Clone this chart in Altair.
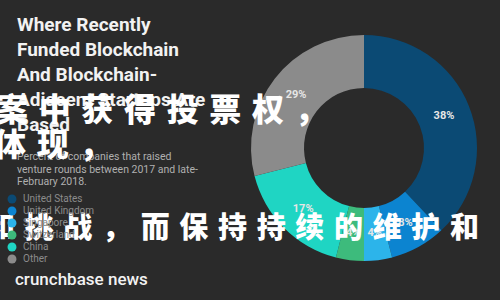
import altair as alt
import pandas as pd

# Share of recently funded blockchain startups by country
countries = ["United States", "United Kingdom", "Singapore", "Switzerland", "China", "Other"]
shares = [38, 8, 4, 4, 17, 29]
colors = ["#0b4a74", "#0c84d0", "#2cb4ea", "#3dbb7c", "#1fd5c3", "#8b8b8b"]

title_lines = ["Where Recently", "Funded Blockchain", "And Blockchain-", "Adjacent Startups Are", "Based"]
subtitle_lines = ["Percent of companies that raised", "venture rounds between 2017 and late-", "February 2018."]
brand = "crunchbase news"

# Overlay captions (characters separated by thin spaces)
sp = "\u2004"
cap1 = sp.join("案中获得投票权，")
cap2 = sp.join("体现，")
cap3 = sp.join("和挑战，而保持持续的维护和")

BG = "#2a2a2a"
CX, CY = 364, 148

df = pd.DataFrame({
    "country": countries,
    "share": shares,
    "order": list(range(len(countries))),
})
df["label"] = df["share"].astype(str) + "%"

base = alt.Chart(df)

donut = base.mark_arc(x=CX, y=CY, innerRadius=60, outerRadius=113).encode(
    theta=alt.Theta("share:Q", stack=True),
    order=alt.Order("order:Q"),
    color=alt.Color(
        "country:N",
        sort=countries,
        scale=alt.Scale(domain=countries, range=colors),
        legend=alt.Legend(
            title=None,
            orient="none",
            legendX=7,
            legendY=194,
            symbolType="circle",
            symbolSize=80,
            symbolStrokeWidth=0,
            labelFontSize=10,
            labelColor="#8c8c8c",
            labelFont="Roboto",
            rowPadding=2,
            padding=0,
            labelOffset=6,
        ),
    ),
)

pct = base.mark_text(
    x=CX, y=CY, radius=86, font="Roboto", fontSize=11, fontWeight="bold",
    color="#e6e6e6",
).encode(
    theta=alt.Theta("share:Q", stack=True),
    order=alt.Order("order:Q"),
    text="label:N",
)

one = alt.Chart(pd.DataFrame({"k": [0]}))

title = one.mark_text(
    text=title_lines, x=17, y=16, align="left", baseline="top",
    font="Roboto", fontSize=19, fontWeight="bold", lineHeight=25, color="#f2f2f2",
).encode(opacity=alt.value(1))

subtitle = one.mark_text(
    text=subtitle_lines, x=17, y=152, align="left", baseline="top",
    font="Roboto", fontSize=10.5, lineHeight=12.5, color="#b0b0b0",
).encode(opacity=alt.value(1))

logo = one.mark_text(
    text=brand, x=15, y=280, align="left", baseline="middle",
    font="Roboto", fontSize=17, fontWeight=500, color="#f2f2f2",
).encode(opacity=alt.value(1))

def caption(txt, x, y, size):
    return one.mark_text(
        text=txt, x=x, y=y, align="left", baseline="middle",
        font="Noto Sans CJK SC", fontSize=size, fontWeight=900, color="#ffffff",
    ).encode(opacity=alt.value(1))

chart = alt.layer(
    donut, pct, title, subtitle, logo,
    caption(cap1, -4, 111, 32),
    caption(cap2, -6, 146, 32),
    caption(cap3, -14, 229, 29),
).properties(
    width=500, height=300, background=BG, padding=0,
    autosize=alt.AutoSizeParams(type="none"),
).configure_view(stroke=None)

chart.save("out.html", embed_options={"renderer": "svg", "actions": False})
